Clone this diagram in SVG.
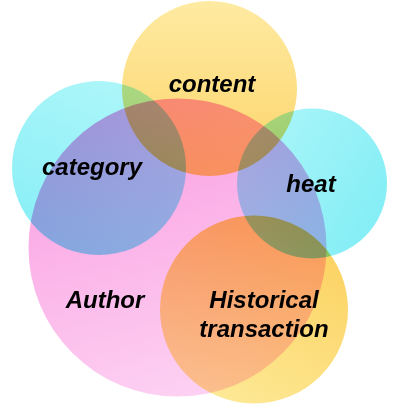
<svg xmlns="http://www.w3.org/2000/svg" width="400" height="408" viewBox="0 0 400 408">
<defs>
<linearGradient id="gPink" x1="0.3" y1="0" x2="0.6" y2="1">
<stop offset="0" stop-color="#fa9ce0"/>
<stop offset="1" stop-color="#fdd2f3"/>
</linearGradient>
<linearGradient id="gYellowTop" x1="0" y1="0" x2="0" y2="1">
<stop offset="0" stop-color="#feeaa2"/>
<stop offset="1" stop-color="#fcd468"/>
</linearGradient>
<linearGradient id="gYellowBot" x1="0.8" y1="0.1" x2="0.3" y2="1">
<stop offset="0" stop-color="#fcd262"/>
<stop offset="1" stop-color="#fde996"/>
</linearGradient>
<linearGradient id="gCyanL" x1="0.6" y1="0" x2="0.2" y2="1">
<stop offset="0" stop-color="#acf6f9"/>
<stop offset="1" stop-color="#86eef6"/>
</linearGradient>
<linearGradient id="gCyanR" x1="0" y1="0" x2="1" y2="0.6">
<stop offset="0" stop-color="#b0f7f9"/>
<stop offset="1" stop-color="#86eef6"/>
</linearGradient>
</defs>
<style>
.c{mix-blend-mode:multiply}
.t{font-family:"Liberation Sans",Arial,sans-serif;font-weight:bold;font-style:italic;font-size:24px;fill:#000;text-anchor:middle}
</style>
<rect width="400" height="408" fill="#fff"/>
<g style="isolation:isolate">
<g id="author">
<circle class="c" cx="177.5" cy="247.5" r="149" fill="url(#gPink)"/>
</g>
<g id="category">
<circle class="c" cx="99" cy="168" r="87" fill="url(#gCyanL)"/>
</g>
<g id="heat">
<circle class="c" cx="312" cy="183.5" r="75" fill="url(#gCyanR)"/>
</g>
<g id="content">
<circle class="c" cx="209.5" cy="88.5" r="87.5" fill="url(#gYellowTop)"/>
</g>
<g id="historical-transaction">
<circle class="c" cx="254" cy="309.5" r="94" fill="url(#gYellowBot)"/>
</g>
<g id="labels">
<text class="t" x="212" y="92">content</text>
<text class="t" x="92" y="175">category</text>
<text class="t" x="311" y="192">heat</text>
<text class="t" x="105" y="307.5">Author</text>
<text class="t" x="264" y="308">Historical</text>
<text class="t" x="264" y="337">transaction</text>
</g>
</g>
<g id="connectors"/>
</svg>
